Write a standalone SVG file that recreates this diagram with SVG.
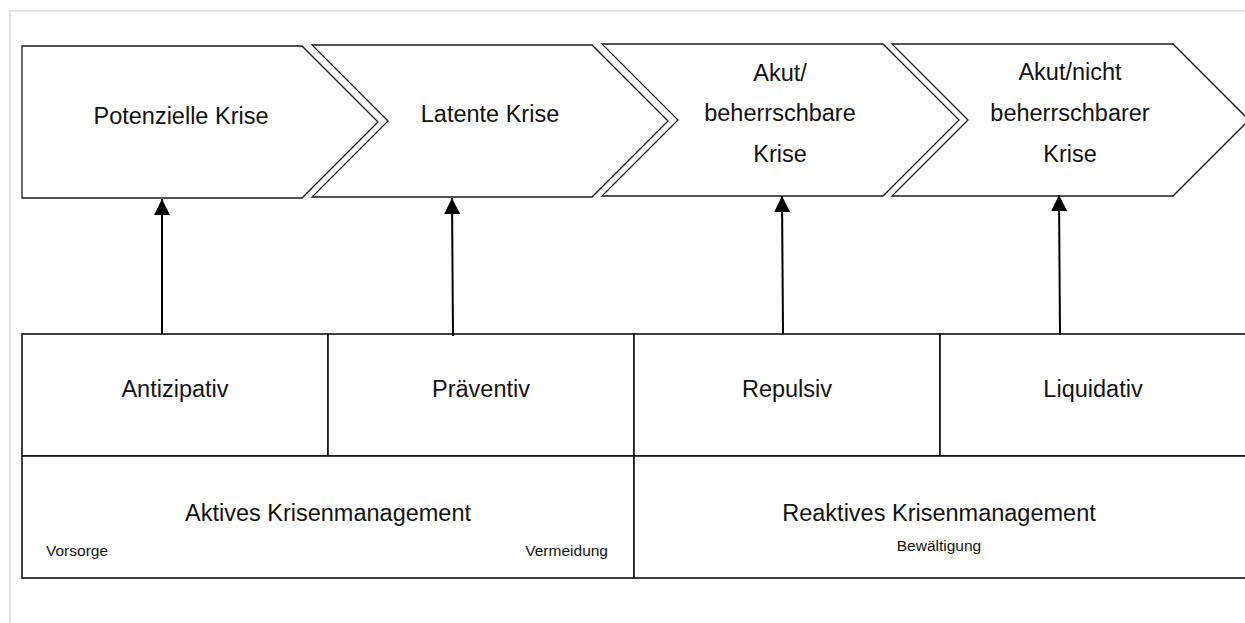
<svg xmlns="http://www.w3.org/2000/svg" width="1245" height="623" viewBox="0 0 1245 623">
<style>
.frame{fill:none;stroke:#dcdcdc;stroke-width:1.5}
.chev{fill:#fff;stroke:#1a1a1a;stroke-width:1.3;stroke-linejoin:miter}
.box{fill:#fff;stroke:#111;stroke-width:1.6}
.t{font-family:"Liberation Sans",Arial,sans-serif;font-size:23.5px;fill:#111;text-anchor:middle}
.s{font-family:"Liberation Sans",Arial,sans-serif;font-size:15.5px;fill:#111}
.conn{stroke:#000;stroke-width:2;fill:none}
</style>
<defs>
<marker id="ah" markerUnits="userSpaceOnUse" markerWidth="18" markerHeight="18" refX="16" refY="8" orient="auto">
<path d="M0,0 L16,8 L0,16 Z" fill="#000"/>
</marker>
</defs>
<rect width="1245" height="623" fill="#fff"/>
<path class="frame" d="M10,623 V11 H1245"/>

<g id="chevron1">
<path class="chev" d="M22,46 H302 L378,122 L302,198 H22 Z"/>
<text class="t" x="181" y="124">Potenzielle Krise</text>
</g>
<g id="chevron2">
<path class="chev" d="M312,45 H592 L668,121 L592,197 H312 L388,121 Z"/>
<text class="t" x="490" y="122">Latente Krise</text>
</g>
<g id="chevron3">
<path class="chev" d="M602,44 H883 L959,120 L883,196 H602 L678,120 Z"/>
<text class="t" x="780" y="81">Akut/</text>
<text class="t" x="780" y="121">beherrschbare</text>
<text class="t" x="780" y="162">Krise</text>
</g>
<g id="chevron4">
<path class="chev" d="M892,44 H1173 L1249,120 L1173,196 H892 L968,120 Z"/>
<text class="t" x="1070" y="80">Akut/nicht</text>
<text class="t" x="1070" y="121">beherrschbarer</text>
<text class="t" x="1070" y="162">Krise</text>
</g>

<g id="antizipativ">
<rect class="box" x="22" y="334" width="306" height="122"/>
<text class="t" x="175" y="397">Antizipativ</text>
</g>
<g id="praeventiv">
<rect class="box" x="328" y="334" width="306" height="122"/>
<text class="t" x="481" y="397">Präventiv</text>
</g>
<g id="repulsiv">
<rect class="box" x="634" y="334" width="306" height="122"/>
<text class="t" x="787" y="397">Repulsiv</text>
</g>
<g id="liquidativ">
<rect class="box" x="940" y="334" width="310" height="122"/>
<text class="t" x="1093" y="397">Liquidativ</text>
</g>
<g id="aktiv">
<rect class="box" x="22" y="456" width="612" height="122"/>
<text class="t" x="328" y="521">Aktives Krisenmanagement</text>
<text class="s" x="46" y="556">Vorsorge</text>
<text class="s" x="608" y="556" text-anchor="end">Vermeidung</text>
</g>
<g id="reaktiv">
<rect class="box" x="634" y="456" width="616" height="122"/>
<text class="t" x="939" y="521">Reaktives Krisenmanagement</text>
<text class="s" x="939" y="551" text-anchor="middle">Bewältigung</text>
</g>

<g id="connectors">
<line class="conn" x1="162" y1="334" x2="162" y2="199" marker-end="url(#ah)"/>
<line class="conn" x1="453" y1="336" x2="452" y2="198" marker-end="url(#ah)"/>
<line class="conn" x1="783" y1="334" x2="782" y2="196" marker-end="url(#ah)"/>
<line class="conn" x1="1060" y1="335" x2="1059" y2="195" marker-end="url(#ah)"/>
</g>
</svg>
